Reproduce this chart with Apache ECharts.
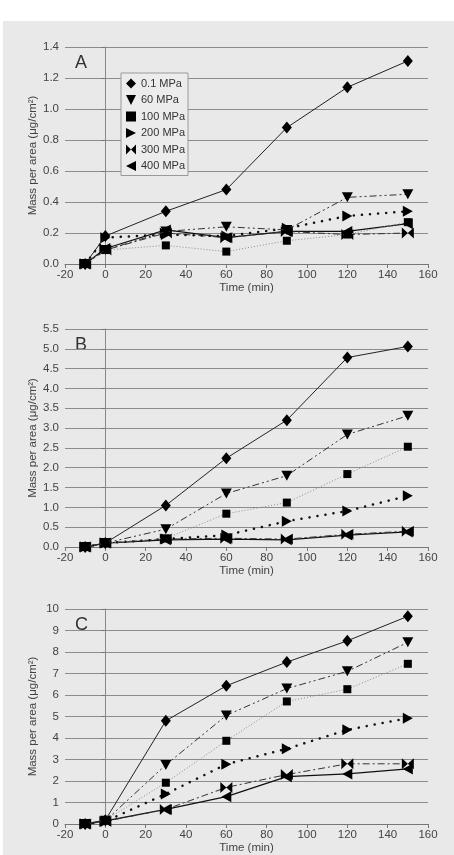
<!DOCTYPE html>
<html>
<head>
<meta charset="utf-8">
<script src="https://cdn.jsdelivr.net/npm/echarts@6/dist/echarts.min.js"></script>
<style>
  html, body { margin: 0; padding: 0; background: #fff; }
  #chart { position: absolute; left: 3px; top: 21px; width: 451px; height: 834px; background: #e9e9e9; }
</style>
</head>
<body>
<div id="chart"></div>
<script>
// sampling times (min)
var times = [-10, 0, 30, 60, 90, 120, 150];
var pressures = ['0.1 MPa', '60 MPa', '100 MPa', '200 MPa', '300 MPa', '400 MPa'];

// panel A
var p01A  = [0, 0.18, 0.34, 0.48, 0.88, 1.14, 1.31];
var p60A  = [0, 0.09, 0.21, 0.24, 0.22, 0.43, 0.45];
var p100A = [0, 0.09, 0.12, 0.08, 0.15, 0.19, 0.27];
var p200A = [0, 0.17, 0.19, 0.18, 0.23, 0.31, 0.34];
var p300A = [0, 0.09, 0.20, 0.17, 0.21, 0.19, 0.20];
var p400A = [0, 0.10, 0.22, 0.17, 0.21, 0.21, 0.26];
// panel B
var p01B  = [0, 0.10, 1.05, 2.24, 3.20, 4.78, 5.06];
var p60B  = [0, 0.10, 0.45, 1.35, 1.80, 2.84, 3.31];
var p100B = [0, 0.10, 0.22, 0.84, 1.12, 1.84, 2.53];
var p200B = [0, 0.10, 0.20, 0.30, 0.65, 0.91, 1.29];
var p300B = [0, 0.10, 0.20, 0.22, 0.20, 0.32, 0.40];
var p400B = [0, 0.10, 0.18, 0.20, 0.18, 0.30, 0.38];
// panel C
var p01C  = [0, 0.18, 4.80, 6.43, 7.53, 8.52, 9.66];
var p60C  = [0, 0.15, 2.75, 5.05, 6.30, 7.10, 8.45];
var p100C = [0, 0.18, 1.92, 3.87, 5.70, 6.27, 7.45];
var p200C = [0, 0.12, 1.40, 2.78, 3.50, 4.38, 4.92];
var p300C = [0, 0.12, 0.68, 1.70, 2.30, 2.80, 2.80];
var p400C = [0, 0.15, 0.68, 1.27, 2.20, 2.33, 2.56];

var panels = [
  { label: 'A', max: 1.4, step: 0.2, dec: 1, data: [p01A, p60A, p100A, p200A, p300A, p400A] },
  { label: 'B', max: 5.5, step: 0.5, dec: 1, data: [p01B, p60B, p100B, p200B, p300B, p400B] },
  { label: 'C', max: 10,  step: 1,   dec: 0, data: [p01C, p60C, p100C, p200C, p300C, p400C] }
];

// marker shapes
var syms = [
  'diamond',
  'path://M0,0L10,0L5,10Z',
  'rect',
  'path://M0,0L10,5L0,10Z',
  'path://M0,0L0,10L5,5Z M10,0L10,10L5,5Z',
  'path://M10,0L0,5L10,10Z'
];
var symSize = [[10, 12], [11, 10], [8, 8], [10, 11], [12, 11], [10, 11]];
var lineStyles = [
  { color: '#222', width: 1, type: 'solid' },
  { color: '#333', width: 1, type: [7, 3, 2, 3, 2, 3] },
  { color: '#8a8a8a', width: 1, type: [1, 2] },
  { color: '#111', width: 2.5, type: [0.1, 8], cap: 'round' },
  { color: '#333', width: 1, type: [7, 3, 2, 3] },
  { color: '#111', width: 1.3, type: 'solid' }
];

var font = '"Liberation Sans", Arial, sans-serif';
var tops = [26, 308, 588];
var heights = [217, 218, 215];

var grids = [], xAxes = [], yAxes = [], series = [], graphics = [];

panels.forEach(function (p, k) {
  grids.push({ left: 62, right: 26, top: tops[k], height: heights[k] });
  xAxes.push({
    gridIndex: k, type: 'value', min: -20, max: 160, interval: 20,
    name: 'Time (min)', nameLocation: 'middle', nameGap: 16,
    nameTextStyle: { fontFamily: font, fontSize: 11.5, color: '#444' },
    axisLine: { lineStyle: { color: '#777' } },
    axisTick: { show: true, length: 4, lineStyle: { color: '#777' } },
    axisLabel: { fontFamily: font, fontSize: 11.5, color: '#444', margin: 5 },
    splitLine: { show: false }
  });
  yAxes.push({
    gridIndex: k, type: 'value', min: 0, max: p.max, interval: p.step,
    name: 'Mass per area (μg/cm²)', nameLocation: 'middle', nameGap: 26,
    nameMoveOverlap: false,
    nameTextStyle: { fontFamily: font, fontSize: 11.5, color: '#444' },
    axisLine: { show: true, lineStyle: { color: '#777' } },
    axisTick: { show: true, length: 4, lineStyle: { color: '#777' } },
    axisLabel: {
      fontFamily: font, fontSize: 11.5, color: '#444', margin: 6,
      formatter: function (v) { return v.toFixed(p.dec); }
    },
    splitLine: { show: true, lineStyle: { color: '#8c8c8c', width: 1 } }
  });
  p.data.forEach(function (vals, i) {
    var s = {
      name: pressures[i], type: 'line', xAxisIndex: k, yAxisIndex: k,
      data: times.map(function (t, j) { return [t, vals[j]]; }),
      symbol: syms[i], symbolSize: symSize[i],
      itemStyle: { color: '#000' },
      lineStyle: lineStyles[i],
      animation: false, z: 10 - i
    };
    if (i === 0) {
      // vertical line at time zero
      s.markLine = {
        silent: true, symbol: 'none', label: { show: false },
        lineStyle: { color: '#888', width: 1, type: 'solid' },
        data: [{ xAxis: 0 }]
      };
    }
    series.push(s);
  });
  graphics.push({
    type: 'text', left: 72, top: tops[k] + 7,
    style: { text: p.label, font: '18px ' + font, fill: '#333' }
  });
});

var chart = echarts.init(document.getElementById('chart'));
chart.setOption({
  animation: false,
  grid: grids,
  xAxis: xAxes,
  yAxis: yAxes,
  series: series,
  graphic: graphics,
  legend: {
    orient: 'vertical', left: 118, top: 52,
    data: pressures.map(function (n, i) { return { name: n, icon: syms[i] }; }),
    itemWidth: 10, itemHeight: 10, itemGap: 5.5,
    padding: [5, 3, 4, 5],
    borderColor: '#999', borderWidth: 1,
    backgroundColor: '#ececec',
    textStyle: { fontFamily: font, fontSize: 11, color: '#333' },
    selectedMode: false
  }
});
</script>
</body>
</html>
